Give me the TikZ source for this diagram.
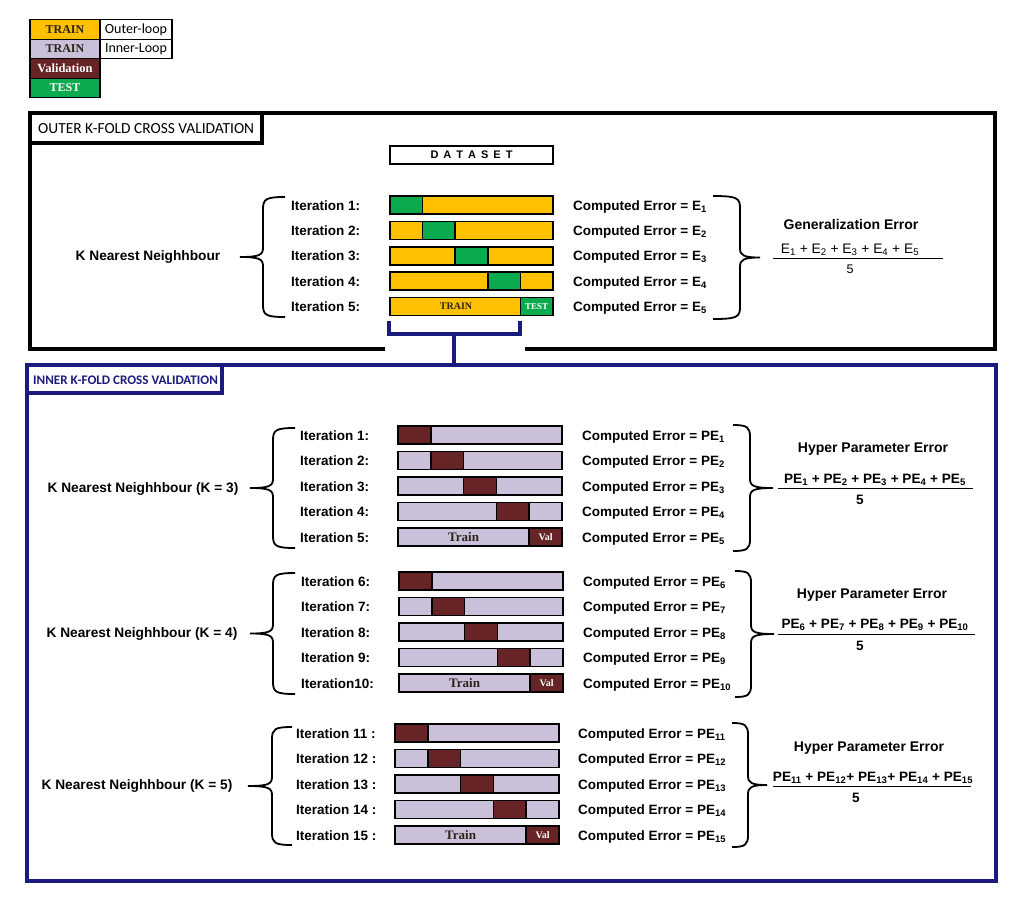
\documentclass[tikz,border=0pt]{standalone}
\usepackage{fontspec}
\setmainfont{Liberation Sans}
\newfontfamily\cambr{Liberation Serif}
\newfontfamily\calib{Carlito}
\usetikzlibrary{calc}

\definecolor{ytrain}{HTML}{FFC000}
\definecolor{gtest}{HTML}{0BAA4F}
\definecolor{lav}{HTML}{CBC0DA}
\definecolor{valc}{HTML}{672426}
\definecolor{navyc}{HTML}{1B1B7E}
\definecolor{darktxt}{HTML}{2A2418}

\newcommand\fs[1]{\fontsize{#1}{#1}\selectfont}

\tikzset{
  lg/.style={draw, line width=1.3pt, inner sep=0pt, minimum width=70pt, minimum height=19.5pt},
  ilabel/.style={anchor=base west, inner sep=0pt, font=\fs{13.5}\bfseries},
  celabel/.style={anchor=base west, inner sep=0pt, font=\fs{13.5}\bfseries},
  klabel/.style={inner sep=0pt, font=\fs{13.7}\bfseries},
  head/.style={inner sep=0pt, font=\fs{14}\bfseries},
  numer/.style={anchor=base, inner sep=0pt, font=\fs{13.6}\bfseries},
  bar/.style={draw, line width=1.5pt, minimum height=18pt, inner sep=0pt},
  barline/.style={draw, line width=1.5pt},
  brc/.style={line width=1.8pt},
  fracline/.style={line width=1pt},
  frame/.style={line width=4pt},
}

% left brace: xend, xvert, xtip, ytop, ybot
\newcommand\braceleft[5]{%
  \pgfmathsetmacro\ymid{(#4+#5)/2}%
  \draw[brc] (#1,#4) .. controls ({#2+3},#4) and (#2,{#4+2}) .. (#2,{#4+12})
    -- (#2,{\ymid-9}) .. controls (#2,{\ymid-2}) and ({#2-4},\ymid) .. (#3,\ymid)
    .. controls ({#2-4},\ymid) and (#2,{\ymid+2}) .. (#2,{\ymid+9})
    -- (#2,{#5-12}) .. controls (#2,{#5-2}) and ({#2+3},#5) .. (#1,#5);
}
% right brace: xend, xvert, xtip, ytop, ybot
\newcommand\braceright[5]{%
  \pgfmathsetmacro\ymid{(#4+#5)/2}%
  \draw[brc] (#1,#4) .. controls ({#2-3},#4) and (#2,{#4+2}) .. (#2,{#4+12})
    -- (#2,{\ymid-9}) .. controls (#2,{\ymid-2}) and ({#2+4},\ymid) .. (#3,\ymid)
    .. controls ({#2+4},\ymid) and (#2,{\ymid+2}) .. (#2,{\ymid+9})
    -- (#2,{#5-12}) .. controls (#2,{#5-2}) and ({#2-3},#5) .. (#1,#5);
}

% inner group: prefix, offset, xbar, xlabel, xce, y0, labels
\newcommand\innergroup[7]{%
  \foreach \lab [count=\j] in {#7} {
    \pgfmathsetmacro\yy{#6+(\j-1)*25.5}
    \pgfmathsetmacro\xa{#3+(\j-1)*32.8}
    \pgfmathtruncatemacro\nn{\j+#2}
    \node[bar, fill=lav, minimum width=164pt] (#1b\j) at ({#3+82},\yy) {};
    \ifnum\j<5 \draw[barline, fill=valc] (\xa,{\yy-9}) rectangle ({\xa+32.8},{\yy+9}); \fi
    \node[ilabel] (#1l\j) at (#4,{\yy+5}) {\lab};
    \node[celabel] (#1c\j) at (#5,{\yy+5}) {Computed Error = PE\textsubscript{\nn}};
  }
  \node[bar, fill=valc, minimum width=32.8pt, text=white, font=\cambr\bfseries\fs{10}] (#1val) at ({#3+164-16.4},{#6+4*25.5}) {Val};
  \node[inner sep=0pt, text=darktxt, font=\cambr\bfseries\fs{13}] (#1train) at ({#3+65.6},{#6+4*25.5}) {Train};
}

\begin{document}
\begin{tikzpicture}[x=1pt,y=-1pt]
\useasboundingbox (0,0) rectangle (1024,911);
\fill[white] (0,0) rectangle (1024,911);

% ---------- legend ----------
\node[lg, fill=ytrain, text=darktxt, font=\cambr\bfseries\fs{12}] (lgyt) at (65,29.5) {TRAIN};
\node[lg, fill=lav, text=darktxt, font=\cambr\bfseries\fs{12}] (lglt) at (65,49) {TRAIN};
\node[lg, fill=valc, text=white, font=\cambr\bfseries\fs{12.5}] (lgval) at (65,68.5) {Validation};
\node[lg, fill=gtest, text=white, font=\cambr\bfseries\fs{12}] (lgtest) at (65,88) {TEST};
\node[lg, minimum width=72pt, font=\calib\fs{14}] (lgol) at (136,29.5) {Outer-loop};
\node[lg, minimum width=72pt, font=\calib\fs{14}] (lgil) at (136,49) {Inner-Loop};

% ---------- outer frame ----------
\draw[frame] (385,349) -- (30,349) -- (30,113) -- (995,113) -- (995,349) -- (525,349);
\draw[frame] (30,143) -- (262,143) -- (262,113);
\node[anchor=west, inner sep=0pt, font=\calib\fs{15.4}] (otitle) at (38,129) {OUTER K-FOLD CROSS VALIDATION};

\node[bar, minimum width=163pt, font=\bfseries\fs{11}] (ds) at (471.5,155)
  {D\hspace{5pt}A\hspace{5pt}T\hspace{5pt}A\hspace{5pt}S\hspace{5pt}E\hspace{5pt}T};

\foreach \i in {1,...,5} {
  \pgfmathsetmacro\yy{205+(\i-1)*25.4}
  \pgfmathsetmacro\xa{390+(\i-1)*32.6}
  \node[bar, fill=ytrain, minimum width=163pt] (ob\i) at (471.5,\yy) {};
  \ifnum\i<5 \draw[barline, fill=gtest] (\xa,{\yy-9}) rectangle ({\xa+32.6},{\yy+9}); \fi
  \node[ilabel] (ol\i) at (291,{\yy+5}) {Iteration \i:};
  \node[celabel] (oc\i) at (573,{\yy+5}) {Computed Error = E\textsubscript{\i}};
}
\node[bar, fill=gtest, minimum width=32.6pt, text=white, font=\cambr\bfseries\fs{9}] (otest) at (536.7,306.6) {TEST};
\node[inner sep=0pt, text=darktxt, font=\cambr\bfseries\fs{10}] (otrain) at (456,306.6) {TRAIN};

\node[klabel] (ok) at (148,257) {K Nearest Neighhbour};
\braceleft{285}{263}{240}{197}{317}
\braceright{713}{740}{760}{196}{319}

\node[head] (oge) at (851,224) {Generalization Error};
\node[numer, font=\fs{13.8}] (onum) at (850,253.5) {E\textsubscript{1} + E\textsubscript{2} + E\textsubscript{3} + E\textsubscript{4} + E\textsubscript{5}};
\draw[fracline] (773,258) -- (943,258);
\node[numer, font=\fs{12.5}] (oden) at (850,273.5) {5};

% ---------- bracket to inner ----------
\coordinate (brL) at ($(ob5.south west)+(0,5)$);
\coordinate (brR) at ($(otest.south west)+(0,5)$);
\coordinate (brM) at ($(brL)!0.5!(brR)+(0,13)$);
\coordinate (itop) at (brM |- 0,365);
\draw[navyc, line width=4pt] (brL) -- ++(0,13) -| (brR);
\draw[navyc, line width=4pt] (brM) -- (itop);

% ---------- inner frame ----------
\draw[navyc, frame] (27,365) rectangle (996,881);
\draw[navyc, frame] (27,393) -- (222,393) -- (222,365);
\node[anchor=west, inner sep=0pt, text=navyc, font=\calib\bfseries\fs{13.1}] (ititle) at (33,380) {INNER K-FOLD CROSS VALIDATION};

% group 1
\innergroup{ga}{0}{398}{300}{582}{435}{Iteration 1:,Iteration 2:,Iteration 3:,Iteration 4:,Iteration 5:}
\node[klabel] (gak) at (143,489) {K Nearest Neighhbour (K = 3)};
\braceleft{295}{273}{250}{428}{548}
\braceright{733}{750}{773}{425}{551}
\node[head] (gah) at (873,449) {Hyper Parameter Error};
\node[numer] (ganum) at (875,483.5) {PE\textsubscript{1} + PE\textsubscript{2} + PE\textsubscript{3} + PE\textsubscript{4} + PE\textsubscript{5}};
\draw[fracline] (778,488) -- (973,488);
\node[numer] (gaden) at (860,504) {5};

% group 2
\innergroup{gb}{5}{399}{301}{583}{581}{Iteration 6:,Iteration 7:,Iteration 8:,Iteration 9:,Iteration10:}
\node[klabel] (gbk) at (142,634) {K Nearest Neighhbour (K = 4)};
\braceleft{295}{273}{250}{573}{694}
\braceright{735}{751}{774}{571}{697}
\node[head] (gbh) at (872,595) {Hyper Parameter Error};
\node[numer] (gbnum) at (875,628.5) {PE\textsubscript{6} + PE\textsubscript{7} + PE\textsubscript{8} + PE\textsubscript{9} + PE\textsubscript{10}};
\draw[fracline] (778,634) -- (975,634);
\node[numer] (gbden) at (860,650) {5};

% group 3
\innergroup{gc}{10}{395}{296}{578}{733}{Iteration 11 :,Iteration 12 :,Iteration 13 :,Iteration 14 :,Iteration 15 :}
\node[klabel] (gck) at (137,786) {K Nearest Neighhbour (K = 5)};
\braceleft{292}{272}{248}{727}{845}
\braceright{732}{748}{767}{723}{847}
\node[head] (gch) at (869,748) {Hyper Parameter Error};
\node[numer] (gcnum) at (873,781.5) {PE\textsubscript{11} + PE\textsubscript{12}+ PE\textsubscript{13}+ PE\textsubscript{14} + PE\textsubscript{15}};
\draw[fracline] (773,786) -- (971,786);
\node[numer] (gcden) at (856,802) {5};

\end{tikzpicture}
\end{document}
